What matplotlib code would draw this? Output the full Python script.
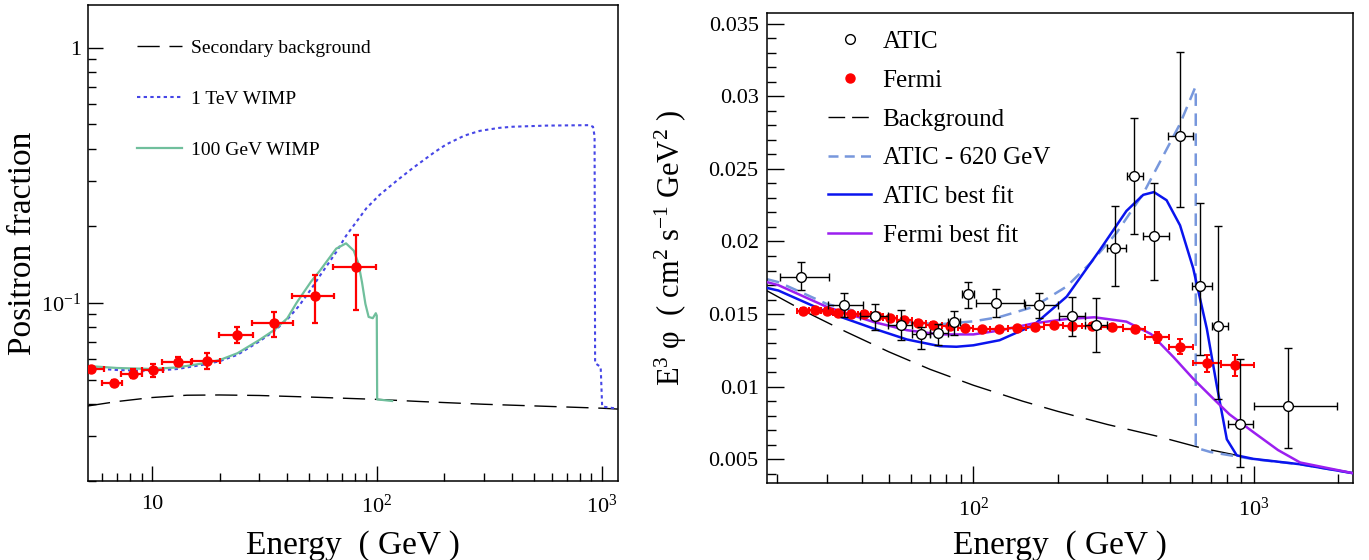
import numpy as np
import matplotlib
matplotlib.use("Agg")
import matplotlib.pyplot as plt
from matplotlib.lines import Line2D
from matplotlib.ticker import LogLocator, NullFormatter, FixedLocator, FixedFormatter, MultipleLocator

plt.rcParams.update({
    "font.family": "Liberation Serif",
    "mathtext.fontset": "custom",
    "mathtext.rm": "Liberation Serif",
    "mathtext.it": "Liberation Serif:italic",
    "axes.linewidth": 1.1,
})

RED, GREEN, DOTBLUE = "#ff0000", "#70bf9c", "#4646e6"
LBLUE, BLUE, PURPLE = "#7797dc", "#0a14ee", "#9b1ff0"

# ---- panel izquierdo: fraccion de positrones ----
pam_e = [5.37, 6.75, 8.24, 10.1, 13.0, 17.6, 23.9, 34.8, 53.0, 80.9]
pam_elo = [5.2, 6.0, 7.28, 9.08, 11.08, 15.1, 19.8, 27.8, 41.8, 63.8]
pam_ehi = [6.1, 7.36, 9.08, 11.26, 14.9, 20.1, 28.1, 42.2, 64.8, 98.7]
pam_f = [0.0548, 0.0483, 0.0528, 0.0545, 0.0588, 0.059, 0.0747, 0.083, 0.106, 0.138]
pam_flo = [0.0535, 0.047, 0.0506, 0.0513, 0.0564, 0.0548, 0.0693, 0.0736, 0.083, 0.094]
pam_fhi = [0.056, 0.050, 0.0548, 0.0573, 0.0614, 0.0633, 0.0805, 0.0922, 0.1285, 0.185]

sec_e = [5.2, 7, 10, 14.3, 20, 30, 50, 100, 156, 300, 600, 1000, 1180]
sec_f = [0.0394, 0.0410, 0.0425, 0.0434, 0.0435, 0.0433, 0.0427, 0.0418, 0.0410, 0.0400, 0.0392, 0.0386, 0.0383]

tev_e = [5.2, 7, 10, 13, 17.6, 20, 24, 30, 35, 40, 45, 51, 56, 66, 73, 90, 103, 125, 145, 181, 204, 245,
         287, 350, 402, 567, 880, 915, 930, 935, 990, 1005, 1180]
tev_f = [0.0555, 0.0545, 0.0540, 0.0550, 0.0575, 0.0590, 0.0625, 0.0705, 0.0775, 0.086, 0.097, 0.113,
         0.128, 0.158, 0.183, 0.235, 0.265, 0.305, 0.338, 0.39, 0.418, 0.452, 0.472, 0.485, 0.490, 0.495,
         0.497, 0.49, 0.45, 0.058, 0.056, 0.0392, 0.0384]

gev_e = [5.2, 7, 10, 13, 17.6, 20, 24, 30, 35, 40, 44, 51, 56, 66, 73, 79, 83, 86, 89, 92, 96,
         99, 100, 100.4, 117]
gev_f = [0.0565, 0.0555, 0.0550, 0.0558, 0.0582, 0.0596, 0.0634, 0.0714, 0.0782, 0.0869, 0.100,
         0.121, 0.134, 0.163, 0.171, 0.160, 0.142, 0.120, 0.099, 0.088, 0.087, 0.091, 0.089, 0.0418, 0.0412]

# ---- panel derecho: espectro e+ + e- ----
atic_e = [24.3, 34.6, 44.7, 55.1, 65, 75, 85.3, 96, 120.5, 172, 224, 274, 320, 374, 441, 545, 643, 747, 891, 1325]
atic_elo = [20.5, 30.4, 39.5, 49.8, 60.4, 70.2, 81.5, 91, 102, 153, 202, 250, 300, 354, 401, 495, 600, 707, 806, 1000]
atic_ehi = [30.7, 40.5, 49.8, 60.4, 70.2, 81.5, 89.6, 100.5, 151, 201, 250, 300, 350, 401, 499, 605, 707, 810, 995, 1982]
atic_f = [0.01756, 0.01561, 0.01486, 0.01424, 0.0136, 0.01367, 0.01446, 0.01637, 0.01577, 0.01564, 0.01485,
          0.01424, 0.01952, 0.0245, 0.02038, 0.02726, 0.01694, 0.01419, 0.00741, 0.00866]
atic_flo = [0.01664, 0.01481, 0.01389, 0.01321, 0.01263, 0.01286, 0.01355, 0.01539, 0.01481, 0.01473, 0.0135,
            0.0124, 0.01694, 0.0205, 0.01738, 0.0224, 0.01215, 0.00913, 0.00446, 0.00581]
atic_fhi = [0.01859, 0.01646, 0.01568, 0.01527, 0.01412, 0.01435, 0.01522, 0.01722, 0.01676, 0.01645, 0.0162,
            0.0161, 0.02246, 0.02848, 0.0240, 0.03303, 0.02264, 0.02107, 0.0119, 0.01269]

fermi_e = [24.8, 27.3, 30.0, 33.0, 36.6, 40.9, 45.3, 50.5, 56.8, 63.7, 72.0, 82.6, 93.4, 107, 123, 143,
           166, 193, 224, 264, 312, 377, 450, 545, 678, 855]
fermi_edges = [23.6, 26.0, 28.6, 31.5, 34.8, 38.7, 43.0, 47.8, 53.5, 60.2, 67.7, 77.1, 87.8, 100, 115, 133,
               154, 179, 208, 243, 285, 340, 410, 497, 607, 760, 1000]
fermi_f = [0.0152, 0.01527, 0.0152, 0.01508, 0.01499, 0.01499, 0.01488, 0.0147, 0.01458, 0.0144, 0.01428,
           0.01417, 0.01401, 0.01394, 0.01394, 0.01401, 0.01412, 0.01424, 0.01417, 0.01417, 0.01412, 0.01396,
           0.01339, 0.01275, 0.0116, 0.01146]
fermi_df = [0.0002] * 22 + [0.0004, 0.0005, 0.0006, 0.0007]

bkg_e = [18.4, 25, 35, 50, 70, 100, 150, 200, 300, 450, 643, 1000, 1460, 2260]
bkg_f = [0.0166, 0.0152, 0.0138, 0.0124, 0.0112, 0.0101, 0.0090, 0.0083, 0.0074, 0.0066, 0.0058, 0.00503,
         0.00466, 0.00404]

a620_e = [18.4, 20.2, 25, 30, 44, 58, 76, 100, 124, 164, 215, 261, 324, 403, 463, 545, 617, 620, 620, 700,
          1000, 1460, 2260]
a620_f = [0.0174, 0.0172, 0.0164, 0.0157, 0.0149, 0.01446, 0.0143, 0.0145, 0.0148, 0.0155, 0.0169, 0.0185,
          0.0206, 0.0233, 0.0255, 0.0281, 0.0306, 0.0306, 0.0058, 0.0055, 0.0050, 0.00466, 0.00404]

afit_e = [18.4, 20.2, 30, 44, 58, 76, 87, 100, 124, 164, 215, 282, 351, 403, 440, 488, 545, 607, 679, 737,
          800, 868, 995, 1460, 2260]
afit_f = [0.0168, 0.01662, 0.01515, 0.01401, 0.01325, 0.01279, 0.01275, 0.01285, 0.0132, 0.01424, 0.0162,
          0.0194, 0.0221, 0.02321, 0.0234, 0.02284, 0.02111, 0.01816, 0.01399, 0.01006, 0.00638, 0.00527,
          0.00503, 0.00466, 0.00404]

ffit_e = [18.4, 20.2, 30, 44, 58, 76, 100, 124, 164, 215, 270, 351, 430, 517, 607, 703, 817, 995, 1217,
          1460, 2260]
ffit_f = [0.0172, 0.01699, 0.0155, 0.01446, 0.01389, 0.0136, 0.0136, 0.01387, 0.01436, 0.01466, 0.01478,
          0.01448, 0.01362, 0.01203, 0.01055, 0.00933, 0.0081, 0.00687, 0.00564, 0.00478, 0.00404]


def style_log_x(ax, majors, labels):
    ax.set_xscale("log")
    ax.xaxis.set_major_locator(FixedLocator(majors))
    ax.xaxis.set_major_formatter(FixedFormatter(labels))
    ax.xaxis.set_minor_locator(LogLocator(base=10, subs=np.arange(2, 10)))
    ax.xaxis.set_minor_formatter(NullFormatter())


fig = plt.figure(figsize=(13.69, 5.6), dpi=100)
ax1 = fig.add_axes([0.0643, 0.141, 0.387, 0.850])
ax2 = fig.add_axes([0.5603, 0.137, 0.4283, 0.839])

# --- izquierdo ---
ax1.plot(sec_e, sec_f, color="black", lw=1.0, dashes=(16, 7), label="Secondary background")
ax1.plot(tev_e, tev_f, color=DOTBLUE, lw=1.5, dashes=(1.6, 1.6), label="1 TeV WIMP")
ax1.plot(gev_e, gev_f, color=GREEN, lw=1.6, label="100 GeV WIMP")
pe = np.array(pam_e)
pf = np.array(pam_f)
ax1.errorbar(pe, pf, xerr=[pe - np.array(pam_elo), np.array(pam_ehi) - pe],
             yerr=[pf - np.array(pam_flo), np.array(pam_fhi) - pf],
             fmt="o", color=RED, ms=6.5, lw=1.6, capsize=2.5, capthick=1.6, zorder=5)
style_log_x(ax1, [10, 100, 1000], ["10", "10$^{2}$", "10$^{3}$"])
ax1.set_yscale("log")
ax1.yaxis.set_major_locator(FixedLocator([0.1, 1]))
ax1.yaxis.set_major_formatter(FixedFormatter(["10$^{-1}$", "1"]))
ax1.yaxis.set_minor_locator(LogLocator(base=10, subs=np.arange(2, 10)))
ax1.yaxis.set_minor_formatter(NullFormatter())
ax1.set_xlim(5.2, 1180)
ax1.set_ylim(0.02, 1.47)
ax1.tick_params(which="both", direction="in", labelsize=16, top=False, right=False, width=1.0)
ax1.tick_params(axis="x", pad=10)
ax1.tick_params(axis="y", pad=5)
ax1.tick_params(which="major", length=11)
ax1.tick_params(which="minor", length=6)
ax1.set_xlabel("Energy  ( GeV )", fontsize=24, labelpad=9)
ax1.set_ylabel("Positron fraction", fontsize=24)
ax1.yaxis.set_label_coords(-0.095, 0.5)
ax1.legend(loc="upper left", bbox_to_anchor=(0.074, 0.948), frameon=False, fontsize=14,
           handlelength=2.3, handletextpad=0.5, labelspacing=1.72, borderpad=0)

# --- derecho ---
ax2.plot(bkg_e, bkg_f, color="black", lw=1.0, dashes=(22, 9), zorder=2)
ax2.plot(a620_e, a620_f, color=LBLUE, lw=1.8, dashes=(5, 3), zorder=2)
ax2.plot(afit_e, afit_f, color=BLUE, lw=1.8, zorder=3)
ax2.plot(ffit_e, ffit_f, color=PURPLE, lw=1.8, zorder=3)
fe = np.array(fermi_e)
fed = np.array(fermi_edges)
ax2.errorbar(fe, fermi_f, xerr=[fe - fed[:-1], fed[1:] - fe], yerr=fermi_df,
             fmt="o", color=RED, ms=6.5, lw=1.6, capsize=2.0, capthick=1.4, zorder=4)
ae = np.array(atic_e)
af = np.array(atic_f)
ax2.errorbar(ae, af, xerr=[ae - np.array(atic_elo), np.array(atic_ehi) - ae],
             yerr=[af - np.array(atic_flo), np.array(atic_fhi) - af],
             fmt="o", mfc="white", mec="black", ecolor="black", ms=7, mew=1.0, lw=1.0,
             capsize=3, capthick=1.0, zorder=5)
style_log_x(ax2, [100, 1000], ["10$^{2}$", "10$^{3}$"])
ax2.set_xlim(18.4, 2260)
ax2.set_ylim(0.00335, 0.0357)
ax2.yaxis.set_major_locator(MultipleLocator(0.005))
ax2.yaxis.set_minor_locator(MultipleLocator(0.001))
ax2.yaxis.set_major_formatter(plt.FuncFormatter(lambda v, p: f"{v:g}"))
ax2.tick_params(which="both", direction="in", labelsize=16, top=False, right=False, width=1.0)
ax2.tick_params(axis="x", pad=10)
ax2.tick_params(axis="y", pad=6)
ax2.tick_params(which="major", length=12)
ax2.tick_params(which="minor", length=6.5)
ax2.set_xlabel("Energy  ( GeV )", fontsize=24, labelpad=7)
ax2.set_ylabel("E$^{3}$ φ  ( cm$^{2}$ s$^{-1}$ GeV$^{2}$ )", fontsize=22, labelpad=14)

handles = [
    Line2D([], [], ls="none", marker="o", mfc="white", mec="black", ms=7, mew=1.0),
    Line2D([], [], ls="none", marker="o", color=RED, ms=6.5),
    Line2D([], [], color="black", lw=1.0, dashes=(12, 5)),
    Line2D([], [], color=LBLUE, lw=1.8, dashes=(4, 2.5)),
    Line2D([], [], color=BLUE, lw=1.8),
    Line2D([], [], color=PURPLE, lw=1.8),
]
labels = ["ATIC", "Fermi", "Background", "ATIC - 620 GeV", "ATIC best fit", "Fermi best fit"]
ax2.legend(handles, labels, loc="upper left", bbox_to_anchor=(0.082, 0.99), frameon=False, fontsize=18,
           handlelength=1.75, handletextpad=0.45, labelspacing=0.65, borderpad=0)

fig.savefig("out.png", dpi=100)
